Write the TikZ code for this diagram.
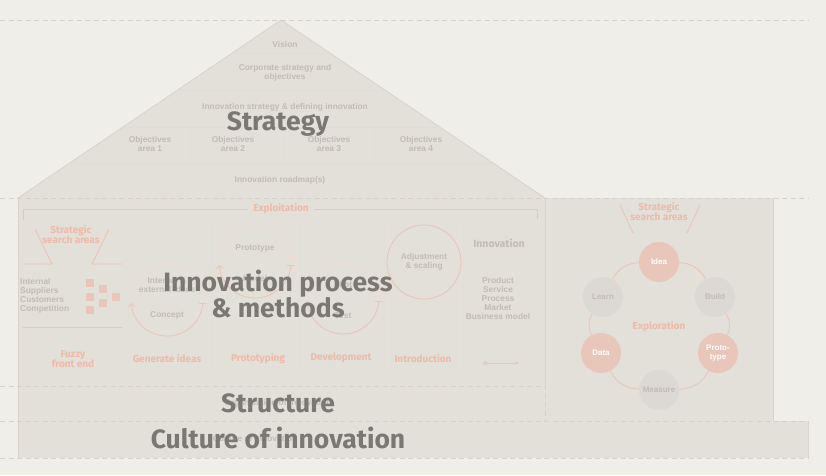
\documentclass[tikz,border=0pt]{standalone}
\usepackage{fontspec}
\setmainfont{Liberation Sans}
\newfontfamily\headfont{Fira Sans}
\usetikzlibrary{positioning,arrows.meta}

\definecolor{paper}{HTML}{EFEEE9}
\definecolor{wall}{HTML}{E3DFD9}
\definecolor{roofedge}{HTML}{DBD3C9}
\definecolor{dashline}{HTML}{D6D0C8}
\definecolor{bandline}{HTML}{E0DCD6}
\definecolor{salmon}{HTML}{ECBBA9}
\definecolor{salmonline}{HTML}{EBC4B5}
\definecolor{salmonfill}{HTML}{E8C6B9}
\definecolor{greytext}{HTML}{C2BCB6}
\definecolor{greyfill}{HTML}{DCD8D3}
\definecolor{bigtext}{HTML}{7B7873}

\tikzset{
  bigtitle/.style={font=\headfont\bfseries\fontsize{26.5}{26}\selectfont,text=bigtext,align=center,inner sep=0pt},
  roofitem/.style={font=\bfseries\fontsize{8.4}{9}\selectfont,text=greytext,align=center,inner sep=0pt},
  phase/.style={font=\headfont\bfseries\fontsize{10}{10}\selectfont,text=salmon,align=center,inner sep=0pt},
  guide/.style={draw=dashline,dash pattern=on 5pt off 3.5pt,line width=0.8pt},
  funnel/.style={draw=salmonline,line width=0.8pt},
  hot/.style={circle,fill=salmonfill,text=white,minimum size=40pt,inner sep=0pt,font=\bfseries\fontsize{8}{9}\selectfont,align=center},
  cool/.style={hot,fill=greyfill,text=greytext},
}

\begin{document}
\begin{tikzpicture}[x=1pt,y=-1pt,
    tip/.style={-{Straight Barb[length=3pt,width=7pt]}},
    ring/.style={draw=salmonline,line width=0.8pt}]
\useasboundingbox[fill=paper] (0,0) rectangle (826,475);

% house
\fill[wall] (18,421) rectangle (808,458);
\fill[wall] (18,198) rectangle (545,421);
\fill[wall] (545,198) rectangle (773,421);
\fill[wall] (18,198) -- (281,20) -- (545,198) -- cycle;
\draw[roofedge,line width=0.8pt] (18,198) -- (281,20) -- (545,198);
\draw[roofedge] (18,198) -- (18,458);
\draw[roofedge] (545,198) -- (545,386);
\draw[roofedge] (773,198) -- (773,421);
\draw[roofedge] (808,421) -- (808,458);
\begin{scope}
  \clip (18,198) -- (281,20) -- (545,198) -- cycle;
  \foreach \y in {53,90,127,163} \draw[bandline] (0,\y) -- (826,\y);
  \foreach \x in {190,283,374} \draw[bandline] (\x,127) -- (\x,163);
\end{scope}

\draw[guide] (0,20) -- (808,20);
\draw[guide] (0,198) -- (808,198);
\draw[guide] (0,386) -- (545,386) -- (545,421);
\draw[guide] (0,421) -- (808,421);
\draw[guide] (0,458) -- (808,458);
\foreach \x in {211,299,384,463}
  \draw[bandline,dash pattern=on 2pt off 2pt] (\x,225) -- (\x,372);

% roof
\node[roofitem] (vision) at (285,44) {Vision};
\node[roofitem] (corporate) at (285,72.5) {Corporate strategy and\\objectives};
\node[roofitem] (innostrat) at (285,107) {Innovation strategy \& defining innovation};
\node[roofitem] (area1) at (150,143.5) {Objectives\\area 1};
\node[roofitem] (area2) at (233,143.5) {Objectives\\area 2};
\node[roofitem] (area3) at (329,143.5) {Objectives\\area 3};
\node[roofitem] (area4) at (421,143.5) {Objectives\\area 4};
\node[roofitem] (roadmap) at (280,180) {Innovation roadmap(s)};

% exploitation
\node[phase] (exploit) at (281,209) {Exploitation};
\draw[funnel] ([xshift=-5pt]exploit.west) -| (23,220);
\draw[funnel] ([xshift=5pt]exploit.east) -| (537,219);

\node[phase] (searchleft) at (71,235) {Strategic\\search areas};
\draw[funnel] (35,229) -- (52,264) -- (23,264);
\draw[funnel] (109,229) -- (92,264) -- (122,264);
\draw[funnel] (23,327) -- (122,327);
\node[roofitem,align=left,anchor=west] (sources) at (20,295.5) {Internal\\Suppliers\\Customers\\Competition};
\foreach \x/\y in {86/279,86/293,86/306,99/285,99/299,112/293}
  \fill[salmonfill] (\x,\y) rectangle ++(8,8);

\foreach \cx/\cy in {167/300,255/262,343/298}{
  \draw[salmonline!60,line width=0.8pt,tip] (\cx,\cy) ++(185:36) arc[start angle=185,end angle=355,radius=36];
  \draw[funnel,{Bar[width=8pt]}-{Straight Barb[length=3pt,width=7pt]}] (\cx,\cy) ++(5:36) arc[start angle=5,end angle=175,radius=36];
}
\node[roofitem] (ideas) at (167,285) {Internal \&\\external ideas};
\node[roofitem] (concept) at (167,315) {Concept};
\node[roofitem] (prototype) at (255,248) {Prototype};
\node[roofitem] (model) at (255,278) {Model};
\node[roofitem] (pilot) at (343,284) {Pilot};
\node[roofitem] (test) at (343,316) {Test};
\node[roofitem,draw=salmonline,line width=0.8pt,circle,minimum size=74pt] (adjust) at (424,262) {Adjustment\\\& scaling};

\node[font=\headfont\bfseries\fontsize{10.5}{10}\selectfont,text=greytext,inner sep=0pt] (innovation) at (499,243) {Innovation};
\node[roofitem] (kinds) at (498,298) {Product\\Service\\Process\\Market\\Business model};
\coordinate (flowstart) at (483,363);
\coordinate (flowend) at (519,363);
\draw[funnel,{Circle[open,length=4pt]}-{Stealth[length=4pt]}] (flowstart) -- (flowend);

\node[phase] (fuzzy) at (73,359.5) {Fuzzy\\front end};
\node[phase] (generate) at (167,359) {Generate ideas};
\node[phase] (prototyping) at (258,359) {Prototyping};
\node[phase] (development) at (341,358) {Development};
\node[phase] (introduction) at (423,359) {Introduction};

% exploration
\node[phase] (searchright) at (659,212) {Strategic\\search areas};
\draw[funnel] (620,205) -- (633,233);
\draw[funnel] (700,205) -- (687,233);
\node[phase] (exploration) at (659,327) {Exploration};
\node[hot] (idea) at (659,262) {Idea};
\node[cool] (build) at (715,297) {Build};
\node[hot] (proto) at (718,353) {Proto-\\type};
\node[cool] (measure) at (659,390) {Measure};
\node[hot] (data) at (601,353) {Data};
\node[cool] (learn) at (603,297) {Learn};
\draw[ring] (idea) to[bend left=30] (build);
\draw[ring] (build) to[bend left=30] (proto);
\draw[ring] (proto) to[bend left=30] (measure);
\draw[ring] (measure) to[bend left=30] (data);
\draw[ring] (data) to[bend left=30] (learn);
\draw[ring] (learn) to[bend left=30] (idea);

% overlay titles
\node[roofitem] (orga) at (278,403) {Organisation of innovation};
\node[roofitem] (culturenote) at (255,438) {Culture of innovation};
\node[bigtitle] (strategy) at (278,124) {Strategy};
\node[bigtitle] (process) at (278,294) {Innovation process\\\& methods};
\node[bigtitle] (structure) at (278,403) {Structure};
\node[bigtitle] (culture) at (278,438) {Culture of innovation};
\end{tikzpicture}
\end{document}
